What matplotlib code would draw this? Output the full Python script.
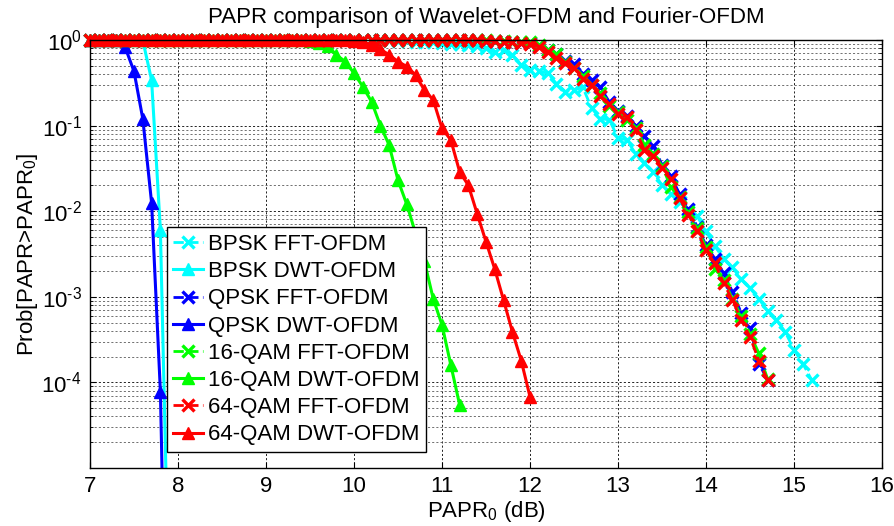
import numpy as np
import matplotlib
matplotlib.use("Agg")
import matplotlib.pyplot as plt
from matplotlib.patches import Rectangle
from matplotlib.ticker import LogLocator, NullFormatter, FixedLocator, FuncFormatter

plt.rcParams["font.family"] = ["Liberation Sans", "DejaVu Sans"]
plt.rcParams["mathtext.fontset"] = "custom"
plt.rcParams["mathtext.rm"] = "Liberation Sans"
plt.rcParams["mathtext.it"] = "Liberation Sans:italic"
plt.rcParams["mathtext.bf"] = "Liberation Sans:bold"

# PAPR0 grid, 7.0 .. 15.2 dB in 0.1 dB steps (every series starts at 7.0 dB)
PAPR_DB = np.round(np.arange(70, 153) / 10, 1)

# CCDF values
bpsk_fft = [
    1, 1, 1, 1, 1, 1, 1, 1, 1, 1,            # 7.0 - 7.9
    1, 1, 1, 1, 1, 1, 1, 1, 1, 1,            # 8.0 - 8.9
    1, 1, 1, 1, 1, 1, 1, 1, 1, 1,            # 9.0 - 9.9
    1, 1, 1, 1, 1, 0.98, 0.97, 0.96, 0.95, 0.94,          # 10.0 - 10.9
    0.92, 0.91, 0.89, 0.88, 0.86, 0.80, 0.72, 0.76, 0.67, 0.51,   # 11.0 - 11.9
    0.45, 0.43, 0.41, 0.31, 0.25, 0.26, 0.28, 0.16, 0.12, 0.117,  # 12.0 - 12.9
    0.072, 0.068, 0.047, 0.037, 0.029, 0.020, 0.016, 0.0129, 0.0102, 0.0087,  # 13.x
    0.0058, 0.0039, 0.0028, 0.0022, 0.0016, 0.00126, 0.00095, 0.00068, 0.00054, 0.00039,  # 14.x
    0.00024, 0.000166, 0.000107,             # 15.0 - 15.2
]
bpsk_dwt = [1, 1, 1, 1, 1, 1, 0.99, 0.34, 0.006, 2e-7]
qpsk_fft = [
    1, 1, 1, 1, 1, 1, 1, 1, 1, 1,
    1, 1, 1, 1, 1, 1, 1, 1, 1, 1,
    1, 1, 1, 1, 1, 1, 1, 1, 1, 1,
    1, 1, 1, 1, 1, 1, 1, 1, 1, 1,
    1, 1, 1, 1, 1, 0.98, 0.97, 0.96, 0.95, 0.93,             # 11.x
    0.93, 0.85, 0.76, 0.68, 0.575, 0.525, 0.40, 0.34, 0.28, 0.19,  # 12.x
    0.148, 0.129, 0.100, 0.076, 0.058, 0.035, 0.026, 0.0158, 0.0105, 0.0066,  # 13.x
    0.0040, 0.0028, 0.0019, 0.00115, 0.00065, 0.00043, 0.000166, 0.000107,    # 14.0 - 14.7
]
qpsk_dwt = [1, 1, 1, 1, 0.82, 0.43, 0.12, 0.0125, 7.8e-5, 1e-9]
qam16_fft = [
    1, 1, 1, 1, 1, 1, 1, 1, 1, 1,
    1, 1, 1, 1, 1, 1, 1, 1, 1, 1,
    1, 1, 1, 1, 1, 1, 1, 1, 1, 1,
    1, 1, 1, 1, 1, 1, 1, 1, 1, 1,
    1, 1, 1, 1, 1, 0.99, 0.98, 0.97, 0.96, 0.95,
    0.95, 0.87, 0.76, 0.68, 0.56, 0.47, 0.38, 0.30, 0.24, 0.17,
    0.145, 0.117, 0.095, 0.060, 0.047, 0.034, 0.019, 0.0148, 0.0098, 0.0063,
    0.0038, 0.00214, 0.00158, 0.00095, 0.0006, 0.00037, 0.00022, 0.00011,
]
qam16_dwt = [
    1, 1, 1, 1, 1, 1, 1, 1, 1, 1,            # 7.x
    1, 1, 1, 1, 1, 1, 1, 1, 1, 1,            # 8.x
    1, 1, 1, 1, 0.99, 0.97, 0.93, 0.84, 0.67, 0.56,       # 9.x
    0.41, 0.285, 0.19, 0.10, 0.059, 0.023, 0.012, 0.0055, 0.0026, 0.00095,  # 10.x
    0.00047, 0.00016, 0.000055,              # 11.0 - 11.2
]
qam64_fft = [
    1, 1, 1, 1, 1, 1, 1, 1, 1, 1,
    1, 1, 1, 1, 1, 1, 1, 1, 1, 1,
    1, 1, 1, 1, 1, 1, 1, 1, 1, 1,
    1, 1, 1, 1, 1, 1, 1, 1, 1, 1,
    1, 1, 1, 1, 1, 0.98, 0.97, 0.96, 0.95, 0.93,
    0.91, 0.83, 0.72, 0.62, 0.54, 0.47, 0.355, 0.295, 0.22, 0.18,
    0.138, 0.126, 0.089, 0.052, 0.044, 0.032, 0.024, 0.0141, 0.0091, 0.0058,
    0.0035, 0.00245, 0.00145, 0.00091, 0.00054, 0.00034, 0.00018, 0.000107,
]
qam64_dwt = [
    1, 1, 1, 1, 1, 1, 1, 1, 1, 1,            # 7.x
    1, 1, 1, 1, 1, 1, 1, 1, 1, 1,            # 8.x
    1, 1, 1, 1, 1, 1, 1, 1, 1, 1,            # 9.x
    0.98, 0.95, 0.87, 0.78, 0.67, 0.56, 0.49, 0.39, 0.26, 0.20,   # 10.x
    0.093, 0.068, 0.029, 0.020, 0.0093, 0.0044, 0.0021, 0.00091, 0.00039, 0.00018,  # 11.x
    0.000068,                                # 12.0
]

SERIES = [
    ("BPSK FFT-OFDM", bpsk_fft, "#00ffff", "fft"),
    ("BPSK DWT-OFDM", bpsk_dwt, "#00ffff", "dwt"),
    ("QPSK FFT-OFDM", qpsk_fft, "#0000ff", "fft"),
    ("QPSK DWT-OFDM", qpsk_dwt, "#0000ff", "dwt"),
    ("16-QAM FFT-OFDM", qam16_fft, "#00ff00", "fft"),
    ("16-QAM DWT-OFDM", qam16_dwt, "#00ff00", "dwt"),
    ("64-QAM FFT-OFDM", qam64_fft, "#ff0000", "fft"),
    ("64-QAM DWT-OFDM", qam64_dwt, "#ff0000", "dwt"),
]

FS = 16

fig = plt.figure(figsize=(8.95, 5.26), dpi=100)
ax = fig.add_axes([90 / 895, 1 - 468 / 526, 792 / 895, 428 / 526])

# markers may spill over the top/side of the box (as in MATLAB), lines stop at the bottom
clip = Rectangle((-0.03, 0.0), 1.06, 1.06, transform=ax.transAxes, facecolor="none", edgecolor="none")
for label, vals, color, kind in SERIES:
    y = np.asarray(vals, dtype=float)
    x = PAPR_DB[:len(y)]
    if kind == "fft":
        ln, = ax.semilogy(x, y, "--x", color=color, lw=2, ms=8, mew=2.4, label=label)
    else:
        ln, = ax.semilogy(x, y, "-^", color=color, lw=2.2, ms=9, mfc=color, mec=color, label=label)
    ln.set_clip_path(clip)

ax.set_xlim(7, 16)
ax.set_ylim(1e-5, 1)
ax.xaxis.set_major_locator(FixedLocator(np.arange(7, 17)))
ax.yaxis.set_major_locator(FixedLocator([1e-4, 1e-3, 1e-2, 1e-1, 1]))
ax.yaxis.set_major_formatter(FuncFormatter(
    lambda v, pos: r"10$^{\mathregular{%s}}$" % str(int(round(np.log10(v)))).replace("-", "\u2010")))
ax.yaxis.set_minor_locator(LogLocator(base=10, subs=np.arange(2, 10)))
ax.yaxis.set_minor_formatter(NullFormatter())

ax.set_axisbelow(True)
ax.grid(True, which="major", color="k", ls=(0, (2.5, 2.5)), lw=0.6)
ax.grid(True, which="minor", axis="y", color="0.35", ls=(0, (2.5, 2.5)), lw=0.6)
ax.tick_params(which="both", direction="in", top=True, right=True, labelsize=FS, pad=6)
ax.tick_params(which="major", length=4)
ax.tick_params(which="minor", length=2)
for sp in ax.spines.values():
    sp.set_linewidth(1.0)

ax.set_title("PAPR comparison of Wavelet-OFDM and Fourier-OFDM", fontsize=FS, pad=12)
ax.set_xlabel(r"PAPR$_\mathregular{0}$ (dB)", fontsize=FS, labelpad=1)
ax.set_ylabel(r"Prob[PAPR>PAPR$_\mathregular{0}$]", fontsize=FS, labelpad=1)

leg = ax.legend(loc="lower left", bbox_to_anchor=(0.097, 0.037), borderaxespad=0,
                fancybox=False, edgecolor="k", framealpha=1, fontsize=FS,
                handlelength=1.35, handletextpad=0.2, labelspacing=0.28, borderpad=0.3)
leg.get_frame().set_linewidth(1.0)

fig.savefig("out.png", dpi=100, facecolor="white")
